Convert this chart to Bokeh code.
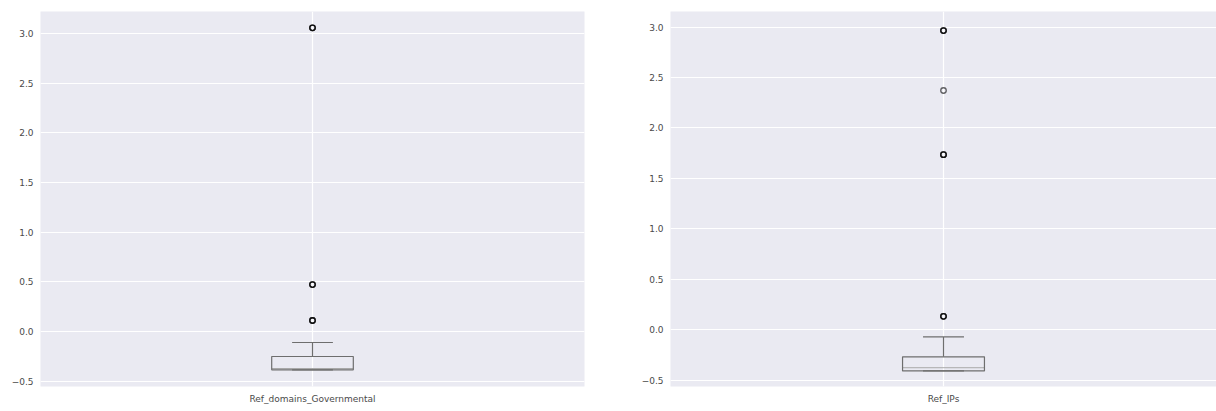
import numpy as np
from bokeh.plotting import figure
from bokeh.layouts import row
from bokeh.models import Range1d, FixedTicker
from bokeh.embed import file_html
from bokeh.resources import INLINE

# ---- data ----
names = ["Ref_domains_Governmental", "Ref_IPs"]
q1 = [-0.385, -0.408]
median = [-0.372, -0.376]
q3 = [-0.251, -0.268]
whisker_low = [-0.385, -0.408]
whisker_high = [-0.110, -0.071]
outliers_left = [3.057, 0.473, 0.111]
outlier_counts_left = [3, 3, 3]
outliers_right = [2.965, 2.371, 1.735, 0.133]
outlier_counts_right = [3, 1, 3, 3]
y_ranges = [(-0.553, 3.221), (-0.562, 3.154)]
y_ticks = [-0.5, 0.0, 0.5, 1.0, 1.5, 2.0, 2.5, 3.0]

BG = "#EAEAF2"
BOX = "#6e6e6e"
MED = "#a8a8a8"
FONT = "DejaVu Sans"


def make_panel(i, outl, counts, width, height, bl, br, bt, bb):
    p = figure(width=width, height=height, output_backend="svg",
               toolbar_location=None, x_range=Range1d(0.5, 1.5),
               y_range=Range1d(*y_ranges[i]),
               min_border_left=bl, min_border_right=br,
               min_border_top=bt, min_border_bottom=bb)
    p.title.visible = False
    p.background_fill_color = BG
    p.border_fill_color = "white"
    p.outline_line_color = None
    for ax in (p.xaxis[0], p.yaxis[0]):
        ax.axis_line_color = None
        ax.major_tick_line_color = None
        ax.minor_tick_line_color = None
        ax.major_tick_out = 0
        ax.major_tick_in = 0
        ax.major_label_text_font = FONT
        ax.major_label_text_font_size = "9px"
        ax.major_label_text_color = "#4a4a4a"
    p.xaxis.ticker = FixedTicker(ticks=[1])
    p.xaxis.major_label_overrides = {1: names[i]}
    p.xaxis.major_label_standoff = 7
    p.yaxis.ticker = FixedTicker(ticks=y_ticks)
    p.yaxis.major_label_overrides = {t: (f"{t:.1f}".replace("-", "\u2212")) for t in y_ticks}
    p.yaxis.major_label_standoff = 7
    p.xgrid.ticker = FixedTicker(ticks=[1])
    p.ygrid.ticker = FixedTicker(ticks=y_ticks)
    for g in (p.xgrid[0], p.ygrid[0]):
        g.grid_line_color = "white"
        g.grid_line_width = 1.2

    x = 1.0
    bw = 0.15
    cw = 0.075
    # whiskers
    p.segment(x0=[x, x], y0=[q3[i], q1[i]], x1=[x, x], y1=[whisker_high[i], whisker_low[i]],
              line_color=BOX, line_width=1.2)
    # caps
    p.segment(x0=[x - cw / 2, x - cw / 2], y0=[whisker_high[i], whisker_low[i]],
              x1=[x + cw / 2, x + cw / 2], y1=[whisker_high[i], whisker_low[i]],
              line_color=BOX, line_width=1.2)
    # median
    p.segment(x0=[x - bw / 2], y0=[median[i]], x1=[x + bw / 2], y1=[median[i]],
              line_color=MED, line_width=1.0)
    # box
    p.quad(left=[x - bw / 2], right=[x + bw / 2], bottom=[q1[i]], top=[q3[i]],
           fill_color=None, line_color=BOX, line_width=1.2)
    # outliers (repeated to mimic overlap darkness)
    ys = np.repeat(np.array(outl), counts)
    p.scatter(x=np.full(len(ys), x), y=ys, marker="circle", size=5.5,
              fill_color=None, line_color="black", line_alpha=0.6, line_width=1.3)
    return p


p1 = make_panel(0, outliers_left, outlier_counts_left, 620, 411, 40, 36, 11, 25)
p2 = make_panel(1, outliers_right, outlier_counts_right, 596, 411, 50, 0, 11, 22)

layout = row(p1, p2)
open("out.html", "w").write(file_html(layout, INLINE))
